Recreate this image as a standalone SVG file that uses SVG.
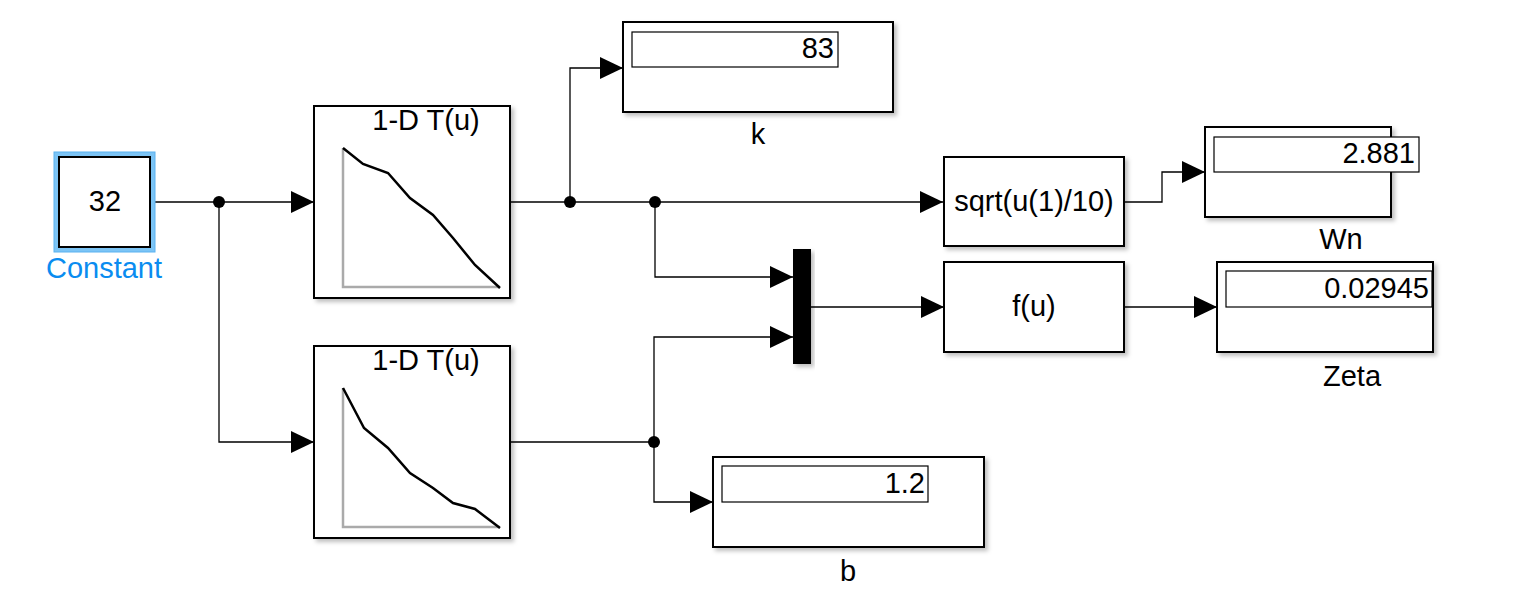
<svg xmlns="http://www.w3.org/2000/svg" width="1532" height="614" viewBox="0 0 1532 614">
<style>
.blk{fill:#fff;stroke:#000;stroke-width:2}
.disp{fill:#fff;stroke:#000;stroke-width:1.2}
.w{fill:none;stroke:#000;stroke-width:1.3}
.t{font-family:"Liberation Sans",Arial,sans-serif;font-size:29px;fill:#000}
.ax{fill:none;stroke:#aaa;stroke-width:2.5}
.cv{fill:none;stroke:#000;stroke-width:2.5}
</style>
<defs>
<marker id="ah" markerUnits="userSpaceOnUse" markerWidth="23" markerHeight="22" refX="23" refY="11" orient="auto">
<path d="M0,0 L23,11 L0,22 z" fill="#000"/>
</marker>
<filter id="sh" x="-10%" y="-10%" width="130%" height="130%">
<feDropShadow dx="3" dy="3" stdDeviation="2" flood-color="#000" flood-opacity="0.25"/>
</filter>
</defs>
<rect width="1532" height="614" fill="#fff"/>

<g id="connectors">
<polyline class="w" points="152,202 314,202" marker-end="url(#ah)"/>
<polyline class="w" points="219,202 219,442 314,442" marker-end="url(#ah)"/>
<polyline class="w" points="511,202 943,202" marker-end="url(#ah)"/>
<polyline class="w" points="570,202 570,68 623,68" marker-end="url(#ah)"/>
<polyline class="w" points="655,202 655,277 793,277" marker-end="url(#ah)"/>
<polyline class="w" points="511,442 654,442 654,337 793,337" marker-end="url(#ah)"/>
<polyline class="w" points="654,442 654,502 713,502" marker-end="url(#ah)"/>
<polyline class="w" points="811,307 944,307" marker-end="url(#ah)"/>
<polyline class="w" points="1125,202 1162,202 1162,172 1205,172" marker-end="url(#ah)"/>
<polyline class="w" points="1125,307 1217,307" marker-end="url(#ah)"/>
<circle cx="219" cy="202" r="6"/>
<circle cx="570" cy="202" r="6"/>
<circle cx="655" cy="202" r="6"/>
<circle cx="654" cy="442" r="6"/>
</g>

<g id="constant">
<rect x="54" y="152" width="101" height="100" fill="#7cc4f5" stroke="#5ab2f0" stroke-width="1"/>
<rect class="blk" x="59" y="157" width="91" height="90"/>
<text class="t" x="105" y="211" text-anchor="middle">32</text>
<text class="t" x="104" y="278" text-anchor="middle" style="fill:#0a8cf0">Constant</text>
</g>

<g id="lookup1">
<rect class="blk" x="314" y="106" width="196" height="192" filter="url(#sh)"/>
<text class="t" x="426" y="130" text-anchor="middle">1-D T(u)</text>
<polyline class="ax" points="343,148 343,287 500,287"/>
<polyline class="cv" points="343,148 363,164 388,173 410,198 433,215 453,238 475,265 500,288"/>
</g>

<g id="lookup2">
<rect class="blk" x="314" y="346" width="196" height="192" filter="url(#sh)"/>
<text class="t" x="426" y="370" text-anchor="middle">1-D T(u)</text>
<polyline class="ax" points="343,388 343,527 500,527"/>
<polyline class="cv" points="343,388 364,428 388,448 410,473 433,488 453,503 475,509 500,528"/>
</g>

<g id="k">
<rect class="blk" x="623" y="22" width="270" height="90" filter="url(#sh)"/>
<rect class="disp" x="632" y="32" width="206" height="35"/>
<text class="t" x="834" y="58" text-anchor="end">83</text>
<text class="t" x="758" y="144" text-anchor="middle">k</text>
</g>

<g id="sqrt">
<rect class="blk" x="944" y="157" width="180" height="89" filter="url(#sh)"/>
<text class="t" x="1034" y="211" text-anchor="middle">sqrt(u(1)/10)</text>
</g>

<g id="Wn">
<rect class="blk" x="1205" y="127" width="186" height="90" filter="url(#sh)"/>
<rect class="disp" x="1214" y="137" width="205" height="35"/>
<text class="t" x="1415" y="163" text-anchor="end">2.881</text>
<text class="t" x="1341" y="249" text-anchor="middle">Wn</text>
</g>

<g id="mux">
<rect x="793" y="249" width="18" height="115" fill="#000" filter="url(#sh)"/>
</g>

<g id="fu">
<rect class="blk" x="944" y="262" width="180" height="90" filter="url(#sh)"/>
<text class="t" x="1034" y="316" text-anchor="middle">f(u)</text>
</g>

<g id="Zeta">
<rect class="blk" x="1217" y="262" width="216" height="90" filter="url(#sh)"/>
<rect class="disp" x="1226" y="271" width="206" height="36"/>
<text class="t" x="1429" y="298" text-anchor="end">0.02945</text>
<text class="t" x="1352" y="386" text-anchor="middle">Zeta</text>
</g>

<g id="b">
<rect class="blk" x="713" y="457" width="271" height="90" filter="url(#sh)"/>
<rect class="disp" x="722" y="466" width="206" height="36"/>
<text class="t" x="925" y="493" text-anchor="end">1.2</text>
<text class="t" x="848" y="581" text-anchor="middle">b</text>
</g>
</svg>
